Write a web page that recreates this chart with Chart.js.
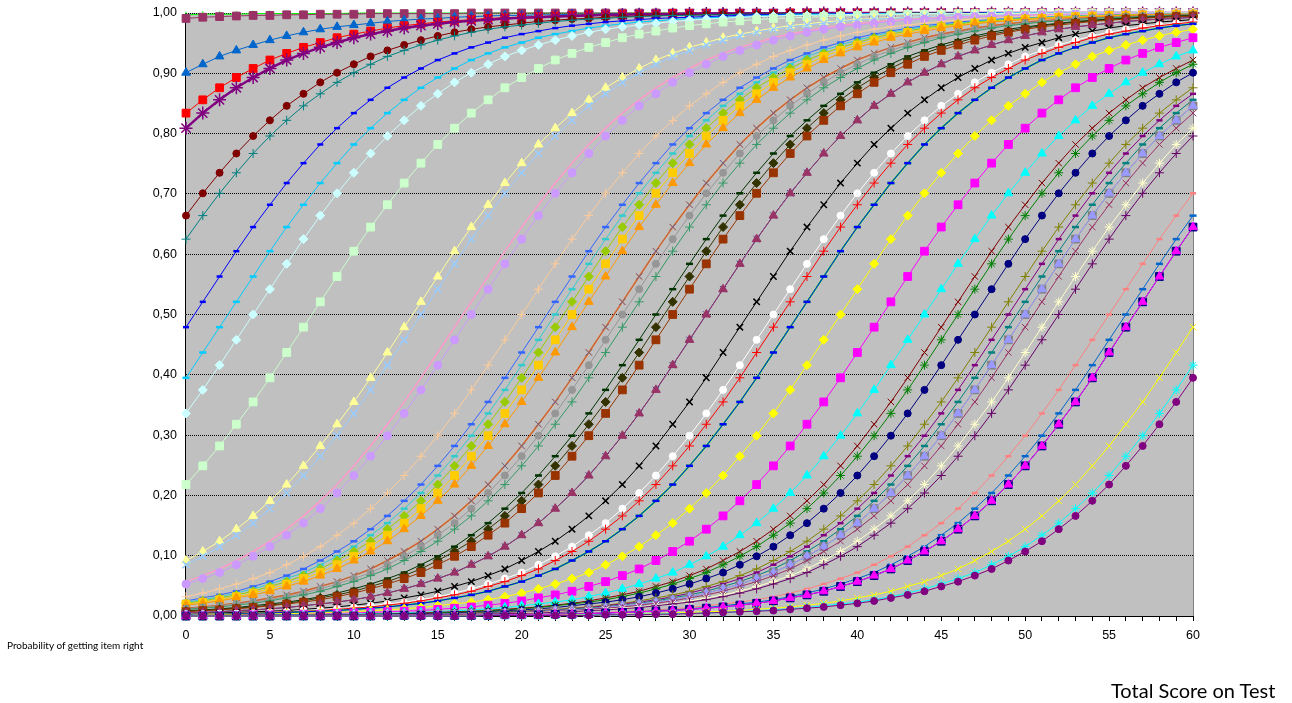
<!DOCTYPE html>
<html>
<head>
<meta charset="utf-8">
<script src="https://cdn.jsdelivr.net/npm/chart.js@4.4.1/dist/chart.umd.min.js"></script>
<style>
  html, body { margin: 0; padding: 0; background: #ffffff; }
  #wrap { position: relative; width: 1292px; height: 703px; overflow: hidden; }
  #c { position: absolute; left: 0; top: 0; }
  .t1 { position: absolute; left: 7px; top: 640px; font-family: Lato, "Liberation Sans", sans-serif; font-size: 10px; line-height: 10px; color: #000; white-space: nowrap; }
  .t2 { position: absolute; left: 1111px; top: 680px; font-family: Lato, "Liberation Sans", sans-serif; font-size: 20px; line-height: 20px; color: #000; white-space: nowrap; }
</style>
</head>
<body>
<div id="wrap">
  <canvas id="c" width="1292" height="703"></canvas>
  <div class="t1">Probability of getting item right</div>
  <div class="t2">Total Score on Test</div>
</div>
<script>
// Categories: total score on test
const xScores = [0,1,2,3,4,5,6,7,8,9,10,11,12,13,14,15,16,17,18,19,20,21,22,23,24,25,26,27,28,29,30,31,32,33,34,35,36,37,38,39,40,41,42,43,44,45,46,47,48,49,50,51,52,53,54,55,56,57,58,59,60];
const yTickLabels = ['0,00','0,10','0,20','0,30','0,40','0,50','0,60','0,70','0,80','0,90','1,00'];

// Series values (probability of getting item right)
const s01 = [.997,.998,.998,.998,.999,.999,.999,.999,.999,.999,1,1,1,1,1,1,1,1,1,1,1,1,1,1,1,1,1,1,1,1,1,1,1,1,1,1,1,1,1,1,1,1,1,1,1,1,1,1,1,1,1,1,1,1,1,1,1,1,1,1,1];
const s02 = [.991,.993,.994,.995,.996,.996,.997,.997,.998,.998,.998,.999,.999,.999,.999,.999,.999,1,1,1,1,1,1,1,1,1,1,1,1,1,1,1,1,1,1,1,1,1,1,1,1,1,1,1,1,1,1,1,1,1,1,1,1,1,1,1,1,1,1,1,1];
const s03 = [.901,.915,.928,.938,.947,.955,.962,.968,.973,.977,.980,.983,.986,.988,.990,.991,.993,.994,.995,.996,.996,.997,.997,.998,.998,.998,.999,.999,.999,.999,.999,.999,1,1,1,1,1,1,1,1,1,1,1,1,1,1,1,1,1,1,1,1,1,1,1,1,1,1,1,1,1];
const s04 = [.834,.856,.876,.893,.908,.922,.933,.943,.951,.959,.965,.970,.975,.979,.982,.985,.987,.989,.991,.992,.993,.994,.995,.996,.997,.997,.998,.998,.998,.999,.999,.999,.999,.999,.999,.999,1,1,1,1,1,1,1,1,1,1,1,1,1,1,1,1,1,1,1,1,1,1,1,1,1];
const s05 = [.809,.834,.856,.876,.893,.908,.922,.933,.943,.951,.959,.965,.970,.975,.979,.982,.985,.987,.989,.991,.992,.993,.994,.995,.996,.997,.997,.998,.998,.998,.999,.999,.999,.999,.999,.999,.999,1,1,1,1,1,1,1,1,1,1,1,1,1,1,1,1,1,1,1,1,1,1,1,1];
const s06 = [.664,.701,.735,.767,.796,.822,.846,.866,.885,.901,.915,.928,.938,.947,.955,.962,.968,.973,.977,.980,.983,.986,.988,.990,.991,.993,.994,.995,.996,.996,.997,.997,.998,.998,.998,.999,.999,.999,.999,.999,.999,1,1,1,1,1,1,1,1,1,1,1,1,1,1,1,1,1,1,1,1];
const s07 = [.625,.664,.701,.735,.767,.796,.822,.846,.866,.885,.901,.915,.928,.938,.947,.955,.962,.968,.973,.977,.980,.983,.986,.988,.990,.991,.993,.994,.995,.996,.996,.997,.997,.998,.998,.998,.999,.999,.999,.999,.999,.999,1,1,1,1,1,1,1,1,1,1,1,1,1,1,1,1,1,1,1];
const s08 = [.479,.521,.563,.605,.645,.682,.718,.751,.782,.809,.834,.856,.876,.893,.908,.922,.933,.943,.951,.959,.965,.970,.975,.979,.982,.985,.987,.989,.991,.992,.993,.994,.995,.996,.997,.997,.998,.998,.998,.999,.999,.999,.999,.999,.999,.999,1,1,1,1,1,1,1,1,1,1,1,1,1,1,1];
const s09 = [.395,.437,.479,.521,.563,.605,.645,.682,.718,.751,.782,.809,.834,.856,.876,.893,.908,.922,.933,.943,.951,.959,.965,.970,.975,.979,.982,.985,.987,.989,.991,.992,.993,.994,.995,.996,.997,.997,.998,.998,.998,.999,.999,.999,.999,.999,.999,.999,1,1,1,1,1,1,1,1,1,1,1,1,1];
const s10 = [.336,.375,.416,.458,.5,.542,.584,.625,.664,.701,.735,.767,.796,.822,.846,.866,.885,.901,.915,.928,.938,.947,.955,.962,.968,.973,.977,.980,.983,.986,.988,.990,.991,.993,.994,.995,.996,.996,.997,.997,.998,.998,.998,.999,.999,.999,.999,.999,.999,1,1,1,1,1,1,1,1,1,1,1,1];
const s11 = [.218,.249,.282,.318,.355,.395,.437,.479,.521,.563,.605,.645,.682,.718,.751,.782,.809,.834,.856,.876,.893,.908,.922,.933,.943,.951,.959,.965,.970,.975,.979,.982,.985,.987,.989,.991,.992,.993,.994,.995,.996,.997,.997,.998,.998,.998,.999,.999,.999,.999,.999,.999,.999,1,1,1,1,1,1,1,1];
const s12 = [.092,.107,.124,.144,.166,.191,.218,.249,.282,.318,.355,.395,.437,.479,.521,.563,.605,.645,.682,.718,.751,.782,.809,.834,.856,.876,.893,.908,.922,.933,.943,.951,.959,.965,.970,.975,.979,.982,.985,.987,.989,.991,.992,.993,.994,.995,.996,.997,.997,.998,.998,.998,.999,.999,.999,.999,.999,.999,.999,1,1];
const s13 = [.085,.099,.115,.134,.154,.178,.204,.233,.265,.299,.336,.375,.416,.458,.5,.542,.584,.625,.664,.701,.735,.767,.796,.822,.846,.866,.885,.901,.915,.928,.938,.947,.955,.962,.968,.973,.977,.980,.983,.986,.988,.990,.991,.993,.994,.995,.996,.996,.997,.997,.998,.998,.998,.999,.999,.999,.999,.999,.999,1,1];
const s14 = [.057,.067,.078,.092,.107,.124,.144,.166,.191,.218,.249,.282,.318,.355,.395,.437,.479,.521,.563,.605,.645,.682,.718,.751,.782,.809,.834,.856,.876,.893,.908,.922,.933,.943,.951,.959,.965,.970,.975,.979,.982,.985,.987,.989,.991,.992,.993,.994,.995,.996,.997,.997,.998,.998,.998,.999,.999,.999,.999,.999,.999];
const s15 = [.053,.062,.072,.085,.099,.115,.134,.154,.178,.204,.233,.265,.299,.336,.375,.416,.458,.5,.542,.584,.625,.664,.701,.735,.767,.796,.822,.846,.866,.885,.901,.915,.928,.938,.947,.955,.962,.968,.973,.977,.980,.983,.986,.988,.990,.991,.993,.994,.995,.996,.996,.997,.997,.998,.998,.998,.999,.999,.999,.999,.999];
const s16 = [.032,.038,.045,.053,.062,.072,.085,.099,.115,.134,.154,.178,.204,.233,.265,.299,.336,.375,.416,.458,.5,.542,.584,.625,.664,.701,.735,.767,.796,.822,.846,.866,.885,.901,.915,.928,.938,.947,.955,.962,.968,.973,.977,.980,.983,.986,.988,.990,.991,.993,.994,.995,.996,.996,.997,.997,.998,.998,.998,.999,.999];
const s17 = [.025,.030,.035,.041,.049,.057,.067,.078,.092,.107,.124,.144,.166,.191,.218,.249,.282,.318,.355,.395,.437,.479,.521,.563,.605,.645,.682,.718,.751,.782,.809,.834,.856,.876,.893,.908,.922,.933,.943,.951,.959,.965,.970,.975,.979,.982,.985,.987,.989,.991,.992,.993,.994,.995,.996,.997,.997,.998,.998,.998,.999];
const s18 = [.023,.027,.032,.038,.045,.053,.062,.072,.085,.099,.115,.134,.154,.178,.204,.233,.265,.299,.336,.375,.416,.458,.5,.542,.584,.625,.664,.701,.735,.767,.796,.822,.846,.866,.885,.901,.915,.928,.938,.947,.955,.962,.968,.973,.977,.980,.983,.986,.988,.990,.991,.993,.994,.995,.996,.996,.997,.997,.998,.998,.998];
const s19 = [.021,.025,.030,.035,.041,.049,.057,.067,.078,.092,.107,.124,.144,.166,.191,.218,.249,.282,.318,.355,.395,.437,.479,.521,.563,.605,.645,.682,.718,.751,.782,.809,.834,.856,.876,.893,.908,.922,.933,.943,.951,.959,.965,.970,.975,.979,.982,.985,.987,.989,.991,.992,.993,.994,.995,.996,.997,.997,.998,.998,.998];
const s20 = [.020,.023,.027,.032,.038,.045,.053,.062,.072,.085,.099,.115,.134,.154,.178,.204,.233,.265,.299,.336,.375,.416,.458,.5,.542,.584,.625,.664,.701,.735,.767,.796,.822,.846,.866,.885,.901,.915,.928,.938,.947,.955,.962,.968,.973,.977,.980,.983,.986,.988,.990,.991,.993,.994,.995,.996,.996,.997,.997,.998,.998];
const s21 = [.018,.021,.025,.030,.035,.041,.049,.057,.067,.078,.092,.107,.124,.144,.166,.191,.218,.249,.282,.318,.355,.395,.437,.479,.521,.563,.605,.645,.682,.718,.751,.782,.809,.834,.856,.876,.893,.908,.922,.933,.943,.951,.959,.965,.970,.975,.979,.982,.985,.987,.989,.991,.992,.993,.994,.995,.996,.997,.997,.998,.998];
const s22 = [.013,.015,.018,.021,.025,.030,.035,.041,.049,.057,.067,.078,.092,.107,.124,.144,.166,.191,.218,.249,.282,.318,.355,.395,.437,.479,.521,.563,.605,.645,.682,.718,.751,.782,.809,.834,.856,.876,.893,.908,.922,.933,.943,.951,.959,.965,.970,.975,.979,.982,.985,.987,.989,.991,.992,.993,.994,.995,.996,.997,.997];
const s24 = [.012,.014,.017,.020,.023,.027,.032,.038,.045,.053,.062,.072,.085,.099,.115,.134,.154,.178,.204,.233,.265,.299,.336,.375,.416,.458,.5,.542,.584,.625,.664,.701,.735,.767,.796,.822,.846,.866,.885,.901,.915,.928,.938,.947,.955,.962,.968,.973,.977,.980,.983,.986,.988,.990,.991,.993,.994,.995,.996,.996,.997];
const s25 = [.011,.013,.015,.018,.021,.025,.030,.035,.041,.049,.057,.067,.078,.092,.107,.124,.144,.166,.191,.218,.249,.282,.318,.355,.395,.437,.479,.521,.563,.605,.645,.682,.718,.751,.782,.809,.834,.856,.876,.893,.908,.922,.933,.943,.951,.959,.965,.970,.975,.979,.982,.985,.987,.989,.991,.992,.993,.994,.995,.996,.997];
const s26 = [.009,.010,.012,.014,.017,.020,.023,.027,.032,.038,.045,.053,.062,.072,.085,.099,.115,.134,.154,.178,.204,.233,.265,.299,.336,.375,.416,.458,.5,.542,.584,.625,.664,.701,.735,.767,.796,.822,.846,.866,.885,.901,.915,.928,.938,.947,.955,.962,.968,.973,.977,.980,.983,.986,.988,.990,.991,.993,.994,.995,.996];
const s27 = [.008,.009,.011,.013,.015,.018,.021,.025,.030,.035,.041,.049,.057,.067,.078,.092,.107,.124,.144,.166,.191,.218,.249,.282,.318,.355,.395,.437,.479,.521,.563,.605,.645,.682,.718,.751,.782,.809,.834,.856,.876,.893,.908,.922,.933,.943,.951,.959,.965,.970,.975,.979,.982,.985,.987,.989,.991,.992,.993,.994,.995];
const s28 = [.007,.009,.010,.012,.014,.017,.020,.023,.027,.032,.038,.045,.053,.062,.072,.085,.099,.115,.134,.154,.178,.204,.233,.265,.299,.336,.375,.416,.458,.5,.542,.584,.625,.664,.701,.735,.767,.796,.822,.846,.866,.885,.901,.915,.928,.938,.947,.955,.962,.968,.973,.977,.980,.983,.986,.988,.990,.991,.993,.994,.995];
const s29 = [.005,.006,.007,.009,.010,.012,.014,.017,.020,.023,.027,.032,.038,.045,.053,.062,.072,.085,.099,.115,.134,.154,.178,.204,.233,.265,.299,.336,.375,.416,.458,.5,.542,.584,.625,.664,.701,.735,.767,.796,.822,.846,.866,.885,.901,.915,.928,.938,.947,.955,.962,.968,.973,.977,.980,.983,.986,.988,.990,.991,.993];
const s31 = [.003,.004,.005,.006,.007,.008,.009,.011,.013,.015,.018,.021,.025,.030,.035,.041,.049,.057,.067,.078,.092,.107,.124,.144,.166,.191,.218,.249,.282,.318,.355,.395,.437,.479,.521,.563,.605,.645,.682,.718,.751,.782,.809,.834,.856,.876,.893,.908,.922,.933,.943,.951,.959,.965,.970,.975,.979,.982,.985,.987,.989];
const s32 = [.003,.003,.004,.004,.005,.006,.007,.009,.010,.012,.014,.017,.020,.023,.027,.032,.038,.045,.053,.062,.072,.085,.099,.115,.134,.154,.178,.204,.233,.265,.299,.336,.375,.416,.458,.5,.542,.584,.625,.664,.701,.735,.767,.796,.822,.846,.866,.885,.901,.915,.928,.938,.947,.955,.962,.968,.973,.977,.980,.983,.986];
const s33 = [.002,.003,.003,.004,.005,.006,.007,.008,.009,.011,.013,.015,.018,.021,.025,.030,.035,.041,.049,.057,.067,.078,.092,.107,.124,.144,.166,.191,.218,.249,.282,.318,.355,.395,.437,.479,.521,.563,.605,.645,.682,.718,.751,.782,.809,.834,.856,.876,.893,.908,.922,.933,.943,.951,.959,.965,.970,.975,.979,.982,.985];
const s34 = [.002,.002,.003,.003,.004,.005,.006,.007,.008,.009,.011,.013,.015,.018,.021,.025,.030,.035,.041,.049,.057,.067,.078,.092,.107,.124,.144,.166,.191,.218,.249,.282,.318,.355,.395,.437,.479,.521,.563,.605,.645,.682,.718,.751,.782,.809,.834,.856,.876,.893,.908,.922,.933,.943,.951,.959,.965,.970,.975,.979,.982];
const s36 = [.001,.002,.002,.002,.003,.003,.004,.004,.005,.006,.007,.009,.010,.012,.014,.017,.020,.023,.027,.032,.038,.045,.053,.062,.072,.085,.099,.115,.134,.154,.178,.204,.233,.265,.299,.336,.375,.416,.458,.5,.542,.584,.625,.664,.701,.735,.767,.796,.822,.846,.866,.885,.901,.915,.928,.938,.947,.955,.962,.968,.973];
const s37 = [.001,.001,.001,.001,.002,.002,.002,.003,.003,.004,.005,.006,.007,.008,.009,.011,.013,.015,.018,.021,.025,.030,.035,.041,.049,.057,.067,.078,.092,.107,.124,.144,.166,.191,.218,.249,.282,.318,.355,.395,.437,.479,.521,.563,.605,.645,.682,.718,.751,.782,.809,.834,.856,.876,.893,.908,.922,.933,.943,.951,.959];
const s38 = [.001,.001,.001,.001,.001,.001,.002,.002,.002,.003,.003,.004,.004,.005,.006,.007,.009,.010,.012,.014,.017,.020,.023,.027,.032,.038,.045,.053,.062,.072,.085,.099,.115,.134,.154,.178,.204,.233,.265,.299,.336,.375,.416,.458,.5,.542,.584,.625,.664,.701,.735,.767,.796,.822,.846,.866,.885,.901,.915,.928,.938];
const s39 = [0,.001,.001,.001,.001,.001,.001,.001,.002,.002,.002,.003,.003,.004,.005,.006,.007,.008,.009,.011,.013,.015,.018,.021,.025,.030,.035,.041,.049,.057,.067,.078,.092,.107,.124,.144,.166,.191,.218,.249,.282,.318,.355,.395,.437,.479,.521,.563,.605,.645,.682,.718,.751,.782,.809,.834,.856,.876,.893,.908,.922];
const s40 = [0,0,.001,.001,.001,.001,.001,.001,.002,.002,.002,.003,.003,.004,.004,.005,.006,.007,.009,.010,.012,.014,.017,.020,.023,.027,.032,.038,.045,.053,.062,.072,.085,.099,.115,.134,.154,.178,.204,.233,.265,.299,.336,.375,.416,.458,.5,.542,.584,.625,.664,.701,.735,.767,.796,.822,.846,.866,.885,.901,.915];
const s41 = [0,0,0,.001,.001,.001,.001,.001,.001,.002,.002,.002,.003,.003,.004,.004,.005,.006,.007,.009,.010,.012,.014,.017,.020,.023,.027,.032,.038,.045,.053,.062,.072,.085,.099,.115,.134,.154,.178,.204,.233,.265,.299,.336,.375,.416,.458,.5,.542,.584,.625,.664,.701,.735,.767,.796,.822,.846,.866,.885,.901];
const s42 = [0,0,0,0,.001,.001,.001,.001,.001,.001,.001,.002,.002,.002,.003,.003,.004,.005,.006,.007,.008,.009,.011,.013,.015,.018,.021,.025,.030,.035,.041,.049,.057,.067,.078,.092,.107,.124,.144,.166,.191,.218,.249,.282,.318,.355,.395,.437,.479,.521,.563,.605,.645,.682,.718,.751,.782,.809,.834,.856,.876];
const s43 = [0,0,0,0,0,.001,.001,.001,.001,.001,.001,.002,.002,.002,.003,.003,.004,.004,.005,.006,.007,.009,.010,.012,.014,.017,.020,.023,.027,.032,.038,.045,.053,.062,.072,.085,.099,.115,.134,.154,.178,.204,.233,.265,.299,.336,.375,.416,.458,.5,.542,.584,.625,.664,.701,.735,.767,.796,.822,.846,.866];
const s44 = [0,0,0,0,0,.001,.001,.001,.001,.001,.001,.001,.002,.002,.002,.003,.003,.004,.005,.006,.007,.008,.009,.011,.013,.015,.018,.021,.025,.030,.035,.041,.049,.057,.067,.078,.092,.107,.124,.144,.166,.191,.218,.249,.282,.318,.355,.395,.437,.479,.521,.563,.605,.645,.682,.718,.751,.782,.809,.834,.856];
const s45 = [0,0,0,0,0,0,.001,.001,.001,.001,.001,.001,.002,.002,.002,.003,.003,.004,.004,.005,.006,.007,.009,.010,.012,.014,.017,.020,.023,.027,.032,.038,.045,.053,.062,.072,.085,.099,.115,.134,.154,.178,.204,.233,.265,.299,.336,.375,.416,.458,.5,.542,.584,.625,.664,.701,.735,.767,.796,.822,.846];
const s47 = [0,0,0,0,0,0,.001,.001,.001,.001,.001,.001,.001,.002,.002,.002,.003,.003,.004,.005,.006,.007,.008,.009,.011,.013,.015,.018,.021,.025,.030,.035,.041,.049,.057,.067,.078,.092,.107,.124,.144,.166,.191,.218,.249,.282,.318,.355,.395,.437,.479,.521,.563,.605,.645,.682,.718,.751,.782,.809,.834];
const s48 = [0,0,0,0,0,0,0,.001,.001,.001,.001,.001,.001,.001,.002,.002,.002,.003,.003,.004,.005,.006,.007,.008,.009,.011,.013,.015,.018,.021,.025,.030,.035,.041,.049,.057,.067,.078,.092,.107,.124,.144,.166,.191,.218,.249,.282,.318,.355,.395,.437,.479,.521,.563,.605,.645,.682,.718,.751,.782,.809];
const s49 = [0,0,0,0,0,0,0,0,.001,.001,.001,.001,.001,.001,.002,.002,.002,.003,.003,.004,.004,.005,.006,.007,.009,.010,.012,.014,.017,.020,.023,.027,.032,.038,.045,.053,.062,.072,.085,.099,.115,.134,.154,.178,.204,.233,.265,.299,.336,.375,.416,.458,.5,.542,.584,.625,.664,.701,.735,.767,.796];
const s50 = [0,0,0,0,0,0,0,0,0,0,0,.001,.001,.001,.001,.001,.001,.002,.002,.002,.003,.003,.004,.004,.005,.006,.007,.009,.010,.012,.014,.017,.020,.023,.027,.032,.038,.045,.053,.062,.072,.085,.099,.115,.134,.154,.178,.204,.233,.265,.299,.336,.375,.416,.458,.5,.542,.584,.625,.664,.701];
const s51 = [0,0,0,0,0,0,0,0,0,0,0,0,.001,.001,.001,.001,.001,.001,.002,.002,.002,.003,.003,.004,.004,.005,.006,.007,.009,.010,.012,.014,.017,.020,.023,.027,.032,.038,.045,.053,.062,.072,.085,.099,.115,.134,.154,.178,.204,.233,.265,.299,.336,.375,.416,.458,.5,.542,.584,.625,.664];
const s52 = [0,0,0,0,0,0,0,0,0,0,0,0,.001,.001,.001,.001,.001,.001,.001,.002,.002,.002,.003,.003,.004,.005,.006,.007,.008,.009,.011,.013,.015,.018,.021,.025,.030,.035,.041,.049,.057,.067,.078,.092,.107,.124,.144,.166,.191,.218,.249,.282,.318,.355,.395,.437,.479,.521,.563,.605,.645];
const s55 = [0,0,0,0,0,0,0,0,0,0,0,0,0,0,0,0,.001,.001,.001,.001,.001,.001,.001,.002,.002,.002,.003,.003,.004,.005,.006,.007,.008,.009,.011,.013,.015,.018,.021,.025,.030,.035,.041,.049,.057,.067,.078,.092,.107,.124,.144,.166,.191,.218,.249,.282,.318,.355,.395,.437,.479];
const s56 = [0,0,0,0,0,0,0,0,0,0,0,0,0,0,0,0,0,0,.001,.001,.001,.001,.001,.001,.002,.002,.002,.003,.003,.004,.004,.005,.006,.007,.009,.010,.012,.014,.017,.020,.023,.027,.032,.038,.045,.053,.062,.072,.085,.099,.115,.134,.154,.178,.204,.233,.265,.299,.336,.375,.416];
const s57 = [0,0,0,0,0,0,0,0,0,0,0,0,0,0,0,0,0,0,.001,.001,.001,.001,.001,.001,.001,.002,.002,.002,.003,.003,.004,.005,.006,.007,.008,.009,.011,.013,.015,.018,.021,.025,.030,.035,.041,.049,.057,.067,.078,.092,.107,.124,.144,.166,.191,.218,.249,.282,.318,.355,.395];

// Styling (not data): values, colour, marker, radius, lineWidth, markerBorderWidth
function ser(data, color, marker, r, lw, pbw) {
  return {
    data: data,
    borderColor: color,
    backgroundColor: color,
    pointBackgroundColor: color,
    pointBorderColor: color,
    pointStyle: marker,
    pointRadius: r,
    pointHoverRadius: r,
    borderWidth: lw || 1,
    pointBorderWidth: pbw || 1,
    tension: 0,
    fill: false,
    clip: false
  };
}

const list = [
  ser(s01, '#00FF00', 'cross', 3),
  ser(s02, '#993366', 'rect', 5.5),
  ser(s03, '#0066CC', 'triangle', 5),
  ser(s04, '#FF0000', 'rect', 5.5),
  ser(s05, '#800080', 'star', 6.5, 2.5, 1.5),
  ser(s06, '#800000', 'circle', 3.5),
  ser(s07, '#008080', 'cross', 4.5),
  ser(s08, '#0000FF', 'line', 3, 1, 2.5),
  ser(s09, '#00CCFF', 'line', 3.5, 1, 2.5),
  ser(s10, '#CCFFFF', 'rectRot', 4.5),
  ser(s11, '#CCFFCC', 'rect', 5.5),
  ser(s12, '#FFFF99', 'triangle', 5),
  ser(s13, '#99CCFF', 'crossRot', 5, 1, 1.5),
  ser(s14, '#FF99CC', 'circle', 0, 1.5),
  ser(s15, '#CC99FF', 'circle', 4),
  ser(s16, '#FFCC99', 'cross', 4.5),
  ser(s17, '#3366FF', 'line', 3.5, 1, 2.5),
  ser(s18, '#33CCCC', 'line', 3.5, 1, 2.5),
  ser(s19, '#99CC00', 'rectRot', 4.5),
  ser(s20, '#FFCC00', 'rect', 5.5),
  ser(s21, '#FF9900', 'triangle', 5),
  ser(s22, '#FF6600', 'crossRot', 4.5, 1.5),
  ser(s22, '#666699', 'crossRot', 4.5, 0.5),
  ser(s24, '#969696', 'circle', 3.5),
  ser(s25, '#339966', 'cross', 4.5),
  ser(s26, '#003300', 'line', 3.5, 1, 2.5),
  ser(s27, '#333300', 'rectRot', 4.5),
  ser(s28, '#993300', 'rect', 5.5),
  ser(s29, '#333399', 'crossRot', 4.5),
  ser(s29, '#993366', 'triangle', 5),
  ser(s31, '#000000', 'crossRot', 4.5, 1, 1.5),
  ser(s32, '#FFFFFF', 'circle', 3.5),
  ser(s33, '#FF0000', 'cross', 4.5),
  ser(s34, '#00FF00', 'line', 3.5, 1.5, 2.5),
  ser(s34, '#0000FF', 'line', 3.5, 1, 2.5),
  ser(s36, '#FFFF00', 'rectRot', 4.5),
  ser(s37, '#FF00FF', 'rect', 5.5),
  ser(s38, '#00FFFF', 'triangle', 5),
  ser(s39, '#800000', 'crossRot', 4.5),
  ser(s40, '#008000', 'star', 4.5),
  ser(s41, '#000080', 'circle', 3.5),
  ser(s42, '#808000', 'cross', 4.5),
  ser(s43, '#800080', 'line', 3, 1, 2.5),
  ser(s44, '#008080', 'line', 3.5, 1, 2.5),
  ser(s45, '#808080', 'rect', 5.5),
  ser(s45, '#9999FF', 'triangle', 5),
  ser(s47, '#993366', 'crossRot', 4.5),
  ser(s48, '#FFFFCC', 'star', 4.5),
  ser(s49, '#660066', 'cross', 4.5),
  ser(s50, '#FF8080', 'line', 3, 1, 2.5),
  ser(s51, '#0066CC', 'line', 3.5, 1, 2.5),
  ser(s52, '#CCCCFF', 'triangle', 6),
  ser(s52, '#000080', 'rect', 5.5),
  ser(s52, '#FF00FF', 'triangle', 5),
  ser(s55, '#FFFF00', 'crossRot', 4.5),
  ser(s56, '#00FFFF', 'star', 4.5),
  ser(s57, '#800080', 'circle', 3.5)
];
// later entries drawn on top
list.forEach((d, i) => { d.order = -i; });

const plotFrame = {
  id: 'plotFrame',
  beforeDraw(chart) {
    const { ctx, chartArea: a } = chart;
    ctx.save();
    ctx.fillStyle = '#C0C0C0';
    ctx.fillRect(a.left, a.top, a.right - a.left, a.bottom - a.top);
    ctx.restore();
  },
  beforeDatasetsDraw(chart) {
    const { ctx, chartArea: a } = chart;
    ctx.save();
    ctx.lineWidth = 1;
    ctx.strokeStyle = '#808080';
    ctx.beginPath();
    ctx.moveTo(Math.round(a.right) + 0.5, a.top);
    ctx.lineTo(Math.round(a.right) + 0.5, a.bottom);
    ctx.stroke();
    ctx.strokeStyle = '#000000';
    ctx.beginPath();
    ctx.moveTo(Math.round(a.left) - 0.5, a.top);
    ctx.lineTo(Math.round(a.left) - 0.5, Math.round(a.bottom) + 0.5);
    ctx.lineTo(Math.round(a.right) + 1, Math.round(a.bottom) + 0.5);
    ctx.stroke();
    ctx.restore();
  }
};

new Chart(document.getElementById('c'), {
  type: 'line',
  data: { labels: xScores, datasets: list },
  plugins: [plotFrame],
  options: {
    responsive: false,
    animation: false,
    devicePixelRatio: 1,
    events: [],
    layout: { padding: { top: 13, right: 99, bottom: 0, left: 0 } },
    plugins: { legend: { display: false }, tooltip: { enabled: false }, title: { display: false } },
    scales: {
      x: {
        type: 'category',
        offset: false,
        grid: { display: true, drawOnChartArea: false, drawTicks: true, tickLength: 5, color: '#000000', lineWidth: 1 },
        border: { display: false },
        ticks: {
          autoSkip: false, maxRotation: 0, minRotation: 0, padding: 7, color: '#000000',
          font: { family: 'Liberation Sans', size: 12.5 },
          callback: (v, i) => (i % 5 === 0 ? String(xScores[i]) : '')
        },
        afterFit: (s) => { s.height = 87; }
      },
      y: {
        type: 'linear',
        min: 0, max: 1,
        grid: { color: '#000000', lineWidth: 1, drawTicks: false },
        border: { display: false, dash: [1, 1] },
        ticks: {
          stepSize: 0.1, padding: 9, color: '#000000',
          font: { family: 'Liberation Sans', size: 12.5 },
          callback: (v) => yTickLabels[Math.round(v * 10)]
        },
        afterFit: (s) => { s.width = 186; s.paddingTop = 7; s.paddingBottom = 7; }
      }
    }
  }
});
</script>
</body>
</html>
